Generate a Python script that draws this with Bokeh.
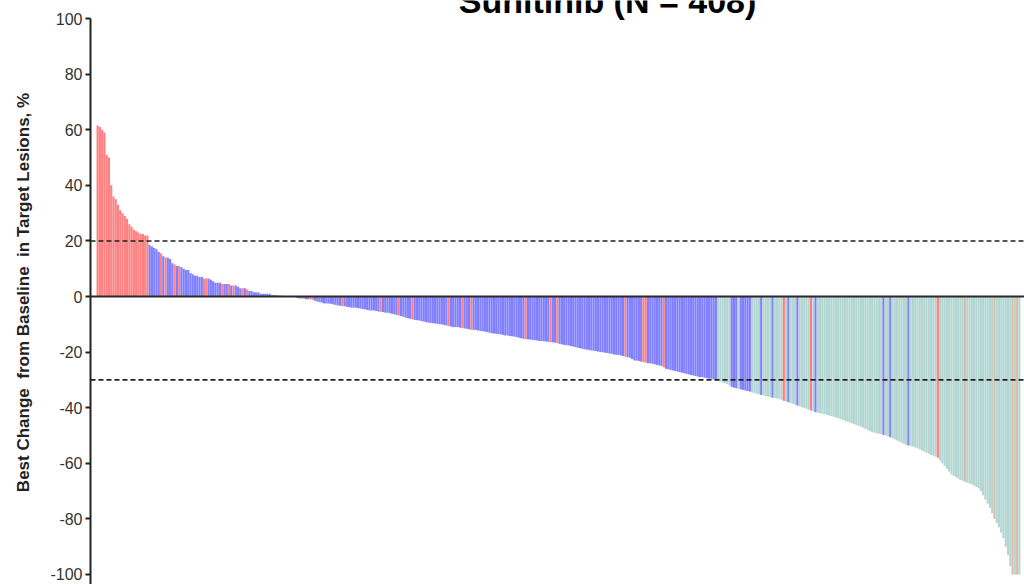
from bokeh.plotting import figure
from bokeh.models import ColumnDataSource, Span, Label, FixedTicker, Range1d
from bokeh.embed import file_html
from bokeh.resources import INLINE

title_text = "Sunitinib (N = 408)"
y_label = "Best Change \u00a0from Baseline \u00a0in Target Lesions, %"
y_ticks = [-100, -80, -60, -40, -20, 0, 20, 40, 60, 80, 100]
ref_lines = [20, -30]

# best % change per patient, sorted
values = [
    61.5, 61, 60, 59, 51, 50, 40, 36, 35, 33,
    31, 30, 29, 28, 26, 25, 24, 23.5, 23, 22.5,
    22.5, 22, 22, 18.5, 18, 17.5, 17, 16, 15.5, 14.5,
    14, 14, 13.5, 12, 11.5, 11, 11, 10.5, 10, 9.5,
    9.5, 8.5, 8, 7.5, 7.5, 7, 7, 6.5, 6.5, 6.5,
    6, 5.5, 5, 5, 5, 4.5, 4.5, 4.5, 4.5, 4,
    4, 4, 3.5, 3, 3, 3, 2.5, 2, 2, 1.5,
    1.5, 1.5, 1, 1, 1, 1, 1, 0.5, 0.5, 0.5,
    0.3, 0.3, 0.2, 0.2, 0.1, 0, 0, 0, -0.5, -0.7,
    -0.7, -0.8, -1, -1, -1, -1.2, -1.5, -1.8, -2, -2.2,
    -2.5, -2.5, -2.5, -2.6, -2.8, -3, -3.2, -3.3, -3.4, -3.5,
    -3.7, -3.8, -4, -4, -4, -4.2, -4.3, -4.5, -4.6, -4.8,
    -5, -5, -5, -5.2, -5.4, -5.5, -5.6, -5.8, -5.8, -6,
    -6.2, -6.4, -6.6, -6.8, -7, -7.3, -7.6, -7.8, -8, -8.2,
    -8.4, -8.5, -8.6, -8.8, -9, -9.2, -9.4, -9.5, -9.6, -9.7,
    -9.8, -10, -10, -10.2, -10.4, -10.6, -10.8, -11, -11, -11,
    -11.2, -11.3, -11.5, -11.6, -11.8, -12, -12, -12, -12.2, -12.4,
    -12.5, -12.6, -12.8, -13, -13.2, -13.3, -13.4, -13.5, -13.6, -13.8,
    -14, -14, -14.2, -14.3, -14.4, -14.6, -14.8, -15, -15.2, -15.3,
    -15.4, -15.5, -15.6, -15.7, -15.8, -16, -16, -16.1, -16.2, -16.3,
    -16.4, -16.5, -16.6, -16.8, -17, -17.2, -17.4, -17.5, -17.6, -17.8,
    -18, -18.2, -18.4, -18.6, -18.8, -19, -19.1, -19.2, -19.4, -19.5,
    -19.6, -19.8, -20, -20, -20.2, -20.3, -20.5, -20.6, -20.8, -21,
    -21, -21.2, -21.4, -21.6, -21.8, -22, -22.5, -23, -23, -23.2,
    -23.4, -23.6, -23.8, -24, -24, -24.2, -24.4, -24.6, -24.8, -25,
    -25.5, -26, -26.2, -26.4, -26.6, -26.8, -27, -27.2, -27.4, -27.6,
    -27.8, -28, -28.2, -28.4, -28.6, -28.8, -29, -29, -29.2, -29.4,
    -29.5, -29.6, -29.8, -30, -30.2, -30.5, -31, -31.2, -31.5, -32,
    -32.5, -32.8, -33, -33.2, -33.4, -33.6, -33.8, -34, -34.2, -34.5,
    -34.8, -35, -35.2, -35.4, -35.6, -35.8, -36, -36.2, -36.4, -36.5,
    -36.7, -36.9, -37.2, -37.5, -37.8, -38, -38.3, -38.6, -38.9, -39.2,
    -39.5, -39.8, -40.1, -40.4, -40.7, -41, -41.3, -41.6, -41.8, -42,
    -42.2, -42.4, -42.6, -42.8, -43, -43.2, -43.5, -43.8, -44.1, -44.4,
    -44.7, -45, -45.3, -45.6, -45.9, -46.2, -46.5, -46.8, -47.2, -47.6,
    -48, -48.4, -48.8, -49, -49.2, -49.4, -49.6, -49.8, -50, -50.3,
    -50.6, -51, -51.4, -51.8, -52.2, -52.6, -53, -53.4, -53.6, -53.8,
    -54, -54.3, -54.6, -55, -55.4, -55.8, -56.2, -56.6, -57, -57.3,
    -57.6, -58, -59, -60, -61, -62, -63, -64, -64.5, -65,
    -65.5, -66, -66.3, -66.6, -67, -67.3, -67.6, -68, -68.5, -69,
    -70, -71.5, -73, -74.5, -76, -78, -80, -81.5, -83, -85,
    -87, -90, -93, -97, -100, -100, -100, -100,
]

# response category per patient: P = progression, S = stable, R = partial response, T = other
status = list(
    "PPPPPPPPPP" "PPPPPPPPPP" "PPPSSSSSPS" "PSSSPSPSSS" "SSSSSSSPPS"
    "SSSSSPSSPS" "PSSSPSPSSS" "SSSSSSSSSS" "SSSSSSSSSS" "SPSSPPSSSS"
    "SSSSSSSSPS" "SSSSSSSSSS" "SSSSSPSSSS" "SSSPSSSSSP" "SSSSSSSSSS"
    "SSSSSPSSSS" "SPSSSPSSSS" "SSSSSSSSSS" "SSSSSSSSSP" "SSSSSSSSSS"
    "PSSPSSSSSS" "SSSSSSSSSS" "SSSSSSSSSS" "SSSPSSSSSS" "SPPSSSSSSS"
    "PSSSSSSSSS" "SSSSSSSSSS" "SSSSRRRRRR" "SSSRSSSSSR" "RRRSRRRRSR"
    "RRRPRSRRRS" "RRRRRPRSRR" "RRRRRRRRRR" "RRRRRRRRRR" "RRRRRRRSRR"
    "SRRRRRRRSR" "RRRRRRRRRR" "RPRRRRRRRR" "RRRTRRRRRR" "RRRRRRTRRR"
    "RRRRTRTR"
)
status_colors = {"P": "#FF8080", "S": "#7F7FFF", "R": "#B3D6D2", "T": "#E2BBA6"}

n = len(values)
source = ColumnDataSource(dict(
    x=list(range(n)),
    v=values,
    color=[status_colors[s] for s in status],
))

p = figure(
    width=1024, height=584,
    output_backend="svg", toolbar_location=None,
    x_axis_location=None,
    x_range=Range1d(-3.15, n + 1.27),
    y_range=Range1d(-103.6, 106.5),
    min_border_left=90, min_border_right=0, min_border_top=0, min_border_bottom=0,
)
p.outline_line_color = None
p.grid.visible = False
p.background_fill_color = "white"
p.border_fill_color = "white"

p.vbar(x="x", top="v", bottom=0, width=0.95, fill_color="color", line_color=None, source=source)

p.add_layout(Span(location=0, dimension="width", line_color="#2a2a2a", line_width=2))
for r in ref_lines:
    p.add_layout(Span(location=r, dimension="width", line_color="#222222",
                      line_width=1.6, line_dash="5 3"))

ax = p.yaxis[0]
ax.ticker = FixedTicker(ticks=y_ticks)
ax.major_label_overrides = {t: str(t) for t in y_ticks}
ax.bounds = (-104, 100)
ax.axis_line_width = 2
ax.axis_line_color = "#222222"
ax.major_tick_line_width = 2
ax.major_tick_line_color = "#222222"
ax.major_tick_out = 5
ax.major_tick_in = 0
ax.minor_tick_out = 0
ax.minor_tick_in = 0
ax.major_label_standoff = 3
ax.major_label_text_font = "Liberation Sans"
ax.major_label_text_font_size = "16px"
ax.major_label_text_color = "#333333"
ax.axis_label = y_label
ax.axis_label_text_font = "Liberation Sans"
ax.axis_label_text_font_style = "bold"
ax.axis_label_text_font_size = "17px"
ax.axis_label_text_color = "#222222"
ax.axis_label_standoff = 14

p.add_layout(Label(
    x=517, y=584, x_units="screen", y_units="screen",
    text=title_text, text_align="center", text_baseline="alphabetic",
    text_font="Liberation Sans", text_font_style="bold", text_font_size="34px",
    text_color="black",
))

open("out.html", "w").write(file_html(p, INLINE))
